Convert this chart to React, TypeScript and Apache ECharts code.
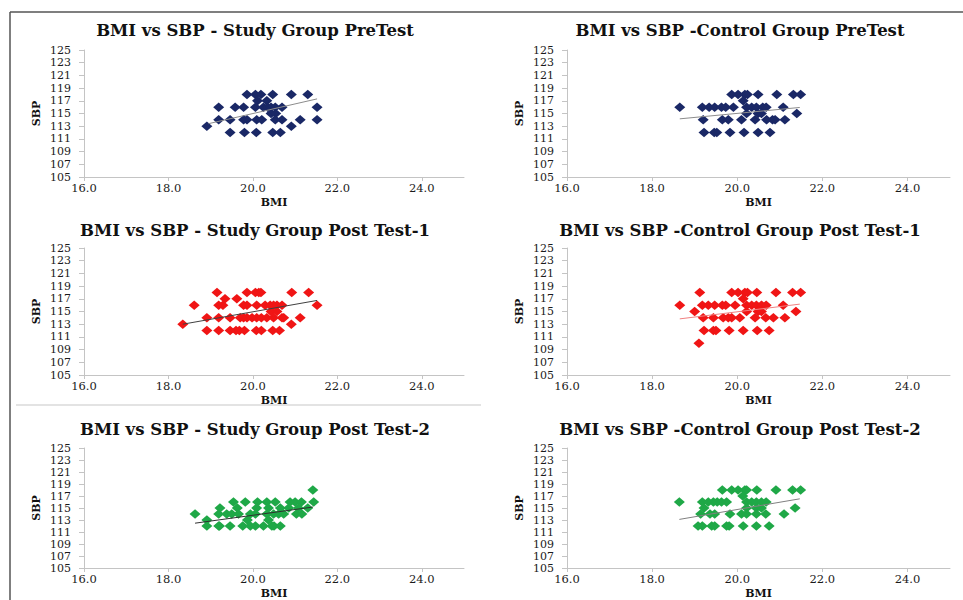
import React, { useEffect, useRef } from "react";
import * as echarts from "echarts";

// ---------- data (BMI, SBP) ----------
const studyPreTest: [number, number][] = [
  [19.86, 118], [20.06, 118], [20.19, 118], [20.47, 118], [20.91, 118], [21.3, 118],
  [20.11, 117], [20.33, 117],
  [19.19, 116], [19.58, 116], [19.78, 116], [20.06, 116], [20.25, 116], [20.35, 116], [20.43, 116], [20.53, 116], [20.69, 116], [21.52, 116],
  [20.43, 115], [20.54, 115],
  [19.19, 114], [19.46, 114], [19.78, 114], [19.86, 114], [20.09, 114], [20.21, 114], [20.53, 114], [20.69, 114], [21.12, 114], [21.52, 114],
  [18.91, 113], [20.91, 113],
  [19.46, 112], [19.8, 112], [20.08, 112], [20.47, 112], [20.65, 112],
];
const controlPreTest: [number, number][] = [
  [19.87, 118], [20.02, 118], [20.18, 118], [20.24, 118], [20.49, 118], [20.93, 118], [21.32, 118], [21.49, 118],
  [20.14, 117],
  [18.65, 116], [19.18, 116], [19.34, 116], [19.47, 116], [19.63, 116], [19.73, 116], [19.91, 116], [20.22, 116], [20.34, 116], [20.45, 116], [20.6, 116], [20.68, 116], [21.08, 116],
  [20.22, 115], [20.49, 115], [20.57, 115], [21.4, 115],
  [19.2, 114], [19.65, 114], [19.79, 114], [20.1, 114], [20.42, 114], [20.69, 114], [20.83, 114], [20.89, 114], [21.12, 114],
  [19.22, 112], [19.46, 112], [19.52, 112], [19.83, 112], [20.16, 112], [20.49, 112], [20.77, 112],
];
const studyPostTest1: [number, number][] = [
  [19.15, 118], [19.86, 118], [20.06, 118], [20.14, 118], [20.19, 118], [20.92, 118], [21.32, 118],
  [19.34, 117], [19.62, 117],
  [18.61, 116], [19.19, 116], [19.29, 116], [19.78, 116], [19.86, 116], [20.09, 116], [20.29, 116], [20.41, 116], [20.49, 116], [20.57, 116], [20.69, 116], [21.52, 116],
  [20.43, 115], [20.57, 115],
  [18.91, 114], [19.19, 114], [19.46, 114], [19.7, 114], [19.78, 114], [19.86, 114], [19.98, 114], [20.09, 114], [20.2, 114], [20.33, 114], [20.49, 114], [20.69, 114], [20.73, 114], [21.12, 114],
  [18.34, 113], [20.91, 113],
  [18.91, 112], [19.19, 112], [19.46, 112], [19.6, 112], [19.68, 112], [19.8, 112], [20.08, 112], [20.2, 112], [20.47, 112], [20.63, 112],
];
const controlPostTest1: [number, number][] = [
  [19.12, 118], [19.87, 118], [20.02, 118], [20.18, 118], [20.24, 118], [20.46, 118], [20.91, 118], [21.3, 118], [21.49, 118],
  [20.14, 117],
  [18.65, 116], [19.18, 116], [19.32, 116], [19.47, 116], [19.65, 116], [19.73, 116], [19.95, 116], [20.22, 116], [20.34, 116], [20.45, 116], [20.57, 116], [20.68, 116], [21.08, 116],
  [19.0, 115], [20.22, 115], [20.49, 115], [20.57, 115], [21.38, 115],
  [19.2, 114], [19.44, 114], [19.67, 114], [19.79, 114], [19.87, 114], [20.06, 114], [20.42, 114], [20.67, 114], [20.85, 114], [21.12, 114],
  [19.22, 112], [19.44, 112], [19.5, 112], [19.81, 112], [20.14, 112], [20.47, 112], [20.75, 112],
  [19.1, 110],
];
const studyPostTest2: [number, number][] = [
  [21.42, 118],
  [19.54, 116], [19.82, 116], [20.11, 116], [20.33, 116], [20.53, 116], [20.88, 116], [21.0, 116], [21.15, 116], [21.44, 116],
  [19.22, 115], [19.63, 115], [20.09, 115], [20.37, 115], [20.65, 115], [20.85, 115], [21.08, 115], [21.3, 115],
  [18.63, 114], [19.19, 114], [19.38, 114], [19.5, 114], [19.66, 114], [19.94, 114], [20.06, 114], [20.33, 114], [20.49, 114], [20.61, 114], [20.73, 114], [21.03, 114], [21.16, 114],
  [18.91, 113], [19.87, 113], [20.37, 113],
  [18.91, 112], [19.19, 112], [19.21, 112], [19.46, 112], [19.76, 112], [19.94, 112], [20.06, 112], [20.25, 112], [20.45, 112], [20.5, 112], [20.65, 112],
];
const controlPostTest2: [number, number][] = [
  [19.65, 118], [19.87, 118], [20.02, 118], [20.18, 118], [20.22, 118], [20.46, 118], [20.91, 118], [21.3, 118], [21.49, 118],
  [20.13, 117],
  [18.64, 116], [19.18, 116], [19.32, 116], [19.44, 116], [19.53, 116], [19.63, 116], [19.75, 116], [20.22, 116], [20.34, 116], [20.45, 116], [20.57, 116], [20.68, 116],
  [19.22, 115], [20.22, 115], [20.45, 115], [20.57, 115], [21.36, 115],
  [19.14, 114], [19.36, 114], [19.47, 114], [19.83, 114], [20.1, 114], [20.22, 114], [20.45, 114], [20.67, 114], [21.1, 114],
  [19.08, 112], [19.18, 112], [19.4, 112], [19.47, 112], [19.75, 112], [19.81, 112], [20.14, 112], [20.45, 112], [20.75, 112],
];

// trend line end points
const trendStudyPre: [number, number][] = [[18.95, 113.4], [21.52, 117.3]];
const trendControlPre: [number, number][] = [[18.65, 114.16], [21.47, 115.95]];
const trendStudyPost1: [number, number][] = [[18.34, 113.0], [21.52, 116.74]];
const trendControlPost1: [number, number][] = [[18.65, 113.84], [21.47, 116.16]];
const trendStudyPost2: [number, number][] = [[18.63, 112.47], [21.42, 115.16]];
const trendControlPost2: [number, number][] = [[18.64, 113.1], [21.47, 116.53]];

const panelTitles = [
  "BMI vs SBP - Study Group PreTest",
  "BMI vs SBP -Control Group PreTest",
  "BMI vs SBP - Study Group Post Test-1",
  "BMI vs SBP -Control Group Post Test-1",
  "BMI vs SBP - Study Group Post Test-2",
  "BMI vs SBP -Control Group Post Test-2",
];
const xTickLabels = ["16.0", "18.0", "20.0", "22.0", "24.0"];
const yTickLabels = ["105", "107", "109", "111", "113", "115", "117", "119", "121", "123", "125"];
const X_MIN = 16, X_MAX = 25, X_STEP = 2;
const Y_MIN = 105, Y_MAX = 125, Y_STEP = 2;

const panelData = [studyPreTest, controlPreTest, studyPostTest1, controlPostTest1, studyPostTest2, controlPostTest2];
const panelTrends = [trendStudyPre, trendControlPre, trendStudyPost1, trendControlPost1, trendStudyPost2, trendControlPost2];
const markerColors = ["#1a2866", "#1a2866", "#f01515", "#f01515", "#1fa847", "#1fa847"];
const trendColors = ["#8c8c8c", "#8c8c8c", "#404040", "#f08080", "#303030", "#808080"];

// layout
const colLeft = [84, 567];
const colWidth = [380, 383];
const rowTop = [50, 248, 448];
const rowHeight = [127, 127, 126];
const titleCenterX = [250, 735];
const titleTop = [17, 217, 416];

const SERIF = "'DejaVu Serif', 'Liberation Serif', serif";

export default function App() {
  const ref = useRef<HTMLDivElement>(null);
  useEffect(() => {
    if (!ref.current) return;
    const chart = echarts.init(ref.current, undefined, { renderer: "svg" });
    const grids: any[] = [];
    const xAxes: any[] = [];
    const yAxes: any[] = [];
    const series: any[] = [];
    const titles: any[] = [];
    for (let i = 0; i < 6; i++) {
      const c = i % 2, r = Math.floor(i / 2);
      grids.push({ left: colLeft[c], top: rowTop[r], width: colWidth[c], height: rowHeight[r] });
      titles.push({
        text: panelTitles[i],
        left: titleCenterX[c],
        top: titleTop[r],
        textAlign: "center",
        textStyle: { fontFamily: SERIF, fontWeight: "bold", fontSize: 16.5, color: "#111" },
      });
      xAxes.push({
        type: "value", gridIndex: i, min: X_MIN, max: X_MAX, interval: X_STEP,
        name: "BMI", nameLocation: "middle", nameGap: 20,
        nameTextStyle: { fontFamily: SERIF, fontWeight: "bold", fontSize: 11, color: "#111" },
        axisLine: { show: true, lineStyle: { color: "#c4c4c4", width: 1 } },
        axisTick: { show: true, length: 4, lineStyle: { color: "#c4c4c4" } },
        splitLine: { show: false },
        axisLabel: {
          showMaxLabel: false, margin: 5, fontFamily: SERIF, fontSize: 11.5, color: "#1a1a1a",
          formatter: (v: number) => xTickLabels[Math.round((v - X_MIN) / X_STEP)] ?? "",
        },
      });
      yAxes.push({
        type: "value", gridIndex: i, min: 0, max: Y_MAX - Y_MIN, interval: Y_STEP,
        name: "SBP", nameLocation: "middle", nameGap: 42,
        nameTextStyle: { fontFamily: SERIF, fontWeight: "bold", fontSize: 11, color: "#111" },
        axisLine: { show: true, lineStyle: { color: "#c4c4c4", width: 1 } },
        axisTick: { show: true, length: 5, lineStyle: { color: "#c4c4c4" } },
        splitLine: { show: false },
        axisLabel: {
          margin: 13, fontFamily: SERIF, fontSize: 11, lineHeight: 11, color: "#1a1a1a",
          formatter: (v: number) => yTickLabels[Math.round(v / Y_STEP)] ?? "",
        },
      });
      series.push({
        type: "scatter", xAxisIndex: i, yAxisIndex: i,
        data: panelData[i].map(([b, s]) => [b, s - Y_MIN]),
        symbol: "diamond", symbolSize: [11, 9.5],
        itemStyle: { color: markerColors[i], opacity: 1 },
        z: 2,
      });
      series.push({
        type: "line", xAxisIndex: i, yAxisIndex: i,
        data: panelTrends[i].map(([b, s]) => [b, s - Y_MIN]),
        symbol: "none", lineStyle: { color: trendColors[i], width: 1 },
        z: 3,
      });
    }
    chart.setOption({
      animation: false,
      backgroundColor: "#ffffff",
      title: titles,
      grid: grids,
      xAxis: xAxes,
      yAxis: yAxes,
      series,
      graphic: [
        { type: "line", shape: { x1: 10, y1: 12, x2: 963, y2: 12 }, style: { stroke: "#555", lineWidth: 1.5 } },
        { type: "line", shape: { x1: 10, y1: 12, x2: 10, y2: 600 }, style: { stroke: "#555", lineWidth: 1.5 } },
        { type: "line", shape: { x1: 16, y1: 405, x2: 481, y2: 405 }, style: { stroke: "#e3e3e3", lineWidth: 2 } },
      ],
    });
    return () => chart.dispose();
  }, []);
  return <div ref={ref} style={{ position: "fixed", left: 0, top: 0, width: 963, height: 600 }} />;
}
